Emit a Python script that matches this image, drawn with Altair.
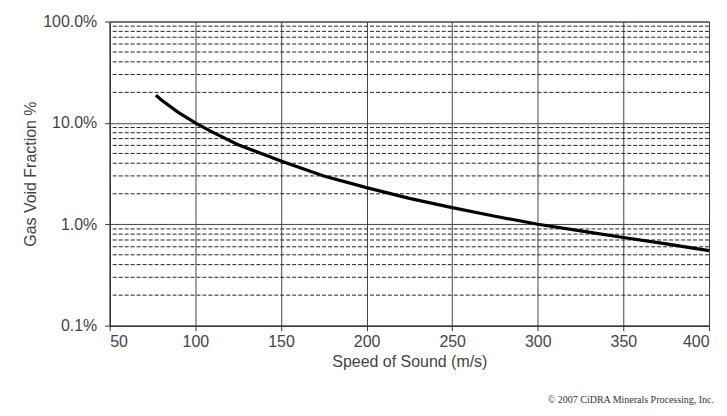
import altair as alt
import pandas as pd

# Curve
speed = [77, 80, 90, 100, 110, 125, 150, 175, 200, 225, 250, 275, 300, 325, 350, 375, 400]
void_pct = [18.8, 16.9, 12.7, 10.0, 8.1, 6.1, 4.2, 3.0, 2.3, 1.8, 1.46, 1.2, 1.0, 0.86, 0.74, 0.64, 0.55]

x_ticks = [50, 100, 150, 200, 250, 300, 350, 400]
y_major = [0.001, 0.01, 0.1, 1.0]
y_minor = [m * d for d in [0.001, 0.01, 0.1] for m in range(2, 10)]

curve = pd.DataFrame({"speed": speed, "frac": [v / 100 for v in void_pct]})
minor = pd.DataFrame({"frac": y_minor})

xscale = alt.Scale(domain=[50, 400], nice=False)
yscale = alt.Scale(type="log", domain=[0.001, 1.0], nice=False)

minor_rules = alt.Chart(minor).mark_rule(
    color="#222222", strokeWidth=1, strokeDash=[4, 2]
).encode(y=alt.Y("frac:Q", scale=yscale))

line = alt.Chart(curve).mark_line(color="black", strokeWidth=3.2).encode(
    x=alt.X(
        "speed:Q",
        scale=xscale,
        title="Speed of Sound (m/s)",
        axis=alt.Axis(
            values=x_ticks, grid=True, gridColor="#444444", gridWidth=1,
            domainColor="#333333", tickColor="#333333", tickSize=5,
            labelFontSize=16, labelColor="#444444", labelPadding=3,
            titleFontSize=16, titleFontWeight="normal", titleColor="#444444",
            titlePadding=4, labelFont="Liberation Sans", titleFont="Liberation Sans",
        ),
    ),
    y=alt.Y(
        "frac:Q",
        scale=yscale,
        title="Gas Void Fraction %",
        axis=alt.Axis(
            values=y_major, format=".1%", grid=True, gridColor="#444444", gridWidth=1,
            domainColor="#333333", tickColor="#333333", tickSize=5,
            labelFontSize=16, labelColor="#444444", labelPadding=8,
            titleFontSize=16, titleFontWeight="normal", titleColor="#444444",
            titlePadding=4, labelFont="Liberation Sans", titleFont="Liberation Sans",
        ),
    ),
)

copyright_text = alt.Chart(pd.DataFrame({"t": ["© 2007 CiDRA Minerals Processing, Inc."]})).mark_text(
    font="Liberation Serif", fontSize=10, align="right", baseline="bottom", color="#333333"
).encode(text="t:N", x=alt.value(606), y=alt.value(385))

chart = alt.layer(minor_rules, line, copyright_text).properties(
    width=601, height=305,
    autosize=alt.AutoSizeParams(type="none"),
    padding={"left": 102, "top": 13, "right": 10, "bottom": 81},
).configure_view(stroke="#444444", strokeWidth=1)

chart.save("out.html", embed_options={"renderer": "svg", "actions": False})
